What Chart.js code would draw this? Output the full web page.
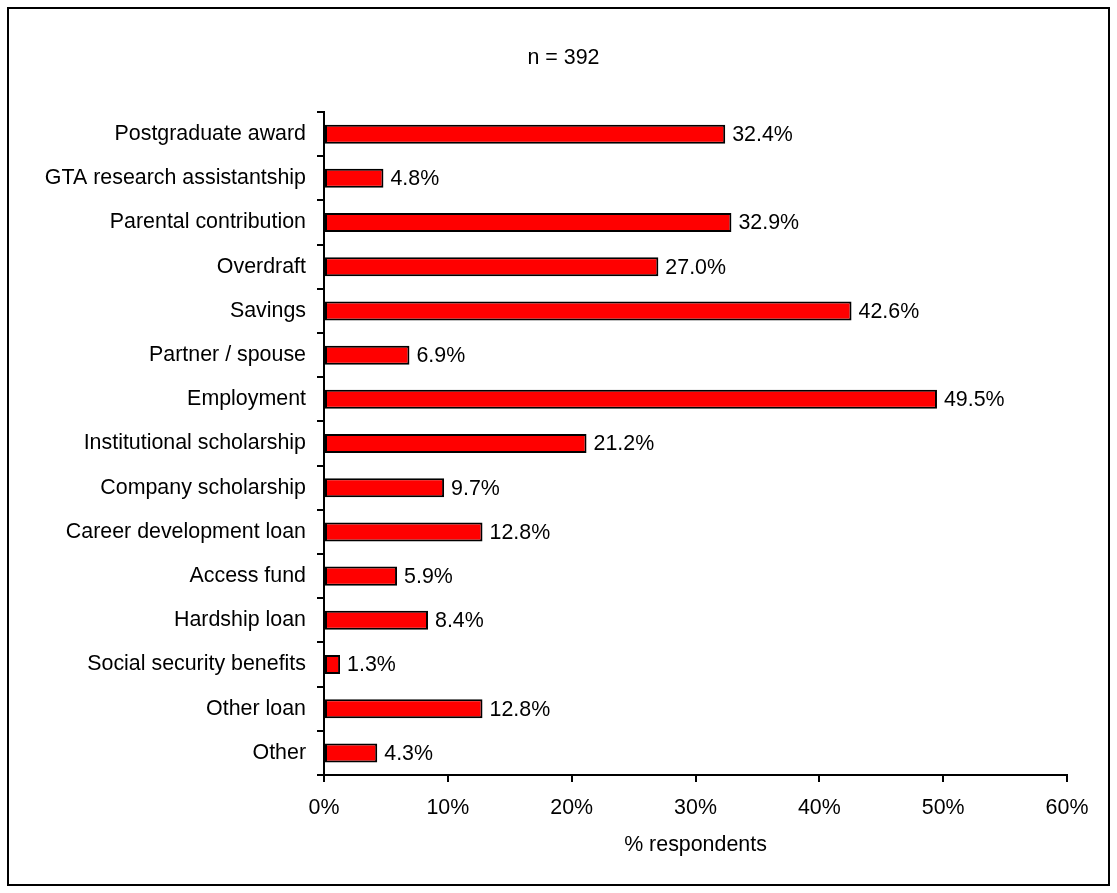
<!DOCTYPE html>
<html>
<head>
<meta charset="utf-8">
<script src="https://cdn.jsdelivr.net/npm/chart.js@4/dist/chart.umd.min.js"></script>
<style>
  html, body { margin: 0; padding: 0; background: #fff; }
  #wrap { width: 1117px; height: 893px; position: relative; }
  canvas { display: block; }
</style>
</head>
<body>
<div id="wrap"><canvas id="chart" width="1117" height="893"></canvas></div>
<script>
// Sources of funding, share of respondents
const categories = [
  'Postgraduate award',
  'GTA research assistantship',
  'Parental contribution',
  'Overdraft',
  'Savings',
  'Partner / spouse',
  'Employment',
  'Institutional scholarship',
  'Company scholarship',
  'Career development loan',
  'Access fund',
  'Hardship loan',
  'Social security benefits',
  'Other loan',
  'Other'
];
const percentages = [32.4, 4.8, 32.9, 27.0, 42.6, 6.9, 49.5, 21.2, 9.7, 12.8, 5.9, 8.4, 1.3, 12.8, 4.3];
const xTicks = [0, 10, 20, 30, 40, 50, 60];

const FONT = "'Liberation Sans', Arial, sans-serif";
const FONT_SIZE = 21.4;

// outer frame around the whole figure
const framePlugin = {
  id: 'frame',
  beforeDraw(chart) {
    const ctx = chart.ctx;
    ctx.save();
    ctx.fillStyle = '#fff';
    ctx.fillRect(0, 0, chart.width, chart.height);
    ctx.strokeStyle = '#000';
    ctx.lineWidth = 2;
    ctx.strokeRect(8, 8, 1101, 877);
    ctx.restore();
  }
};

// value labels to the right of each bar
const valueLabels = {
  id: 'valueLabels',
  afterDatasetsDraw(chart) {
    const ctx = chart.ctx;
    const meta = chart.getDatasetMeta(0);
    ctx.save();
    ctx.font = `${FONT_SIZE}px ${FONT}`;
    ctx.fillStyle = '#000';
    ctx.textAlign = 'left';
    ctx.textBaseline = 'middle';
    meta.data.forEach((bar, i) => {
      ctx.fillText(percentages[i].toFixed(1) + '%', bar.x + 7, bar.y + 1);
    });
    ctx.restore();
  }
};

new Chart(document.getElementById('chart'), {
  type: 'bar',
  data: {
    labels: categories,
    datasets: [{
      data: percentages,
      backgroundColor: '#ff0000',
      borderColor: '#000',
      borderWidth: 2,
      borderSkipped: false,
      barPercentage: 0.43,
      categoryPercentage: 1
    }]
  },
  options: {
    indexAxis: 'y',
    responsive: false,
    animation: false,
    devicePixelRatio: 1,
    layout: { padding: { top: 20, left: 10, right: 0, bottom: 0 } },
    plugins: {
      legend: { display: false },
      tooltip: { enabled: false },
      title: {
        display: true,
        text: 'n = 392',
        color: '#000',
        font: { family: FONT, size: FONT_SIZE, weight: 'normal' },
        padding: { top: 25.2, bottom: 41.2 }
      }
    },
    scales: {
      x: {
        min: 0,
        max: 60,
        afterBuildTicks(scale) {
          scale.ticks = xTicks.map(v => ({ value: v }));
        },
        afterFit(scale) { scale.height = 118; },
        ticks: {
          color: '#000',
          font: { family: FONT, size: FONT_SIZE },
          padding: 13,
          callback: v => v + '%'
        },
        grid: {
          drawOnChartArea: false,
          drawTicks: true,
          tickLength: 7,
          color: '#000',
          lineWidth: 2
        },
        border: { display: true, color: '#000', width: 2 },
        title: {
          display: true,
          text: '% respondents',
          color: '#000',
          font: { family: FONT, size: FONT_SIZE },
          padding: { top: 0, bottom: 35 }
        }
      },
      y: {
        afterFit(scale) { scale.width = 314; },
        ticks: {
          color: '#000',
          font: { family: FONT, size: FONT_SIZE },
          padding: 11
        },
        grid: {
          offset: true,
          drawOnChartArea: false,
          drawTicks: true,
          tickLength: 7,
          color: '#000',
          lineWidth: 2
        },
        border: { display: true, color: '#000', width: 2 }
      },
      // empty strip on the right keeps the plot clear of the frame
      yRight: {
        type: 'category',
        position: 'right',
        afterFit(scale) { scale.width = 50; },
        ticks: { display: false },
        grid: { display: false, drawTicks: false },
        border: { display: false }
      }
    }
  },
  plugins: [framePlugin, valueLabels]
});
</script>
</body>
</html>
